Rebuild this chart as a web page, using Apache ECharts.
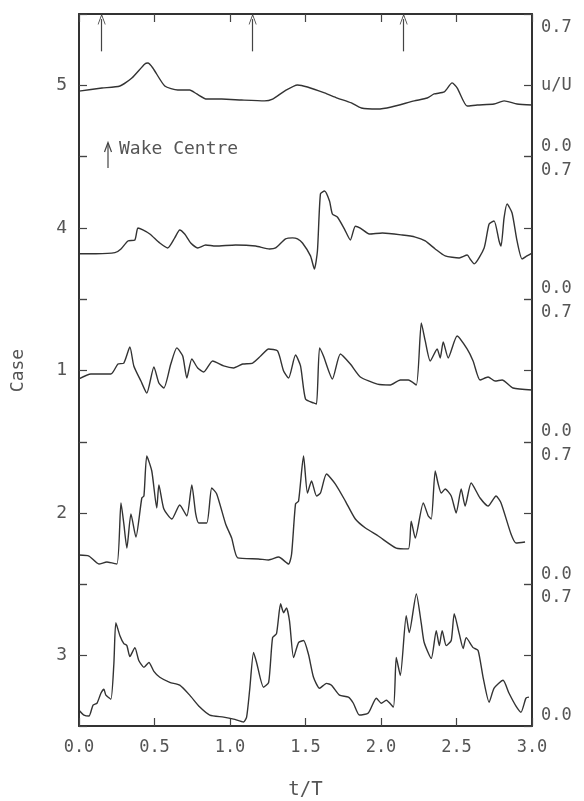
<html>
<head>
<meta charset="utf-8">
<script src="https://cdn.jsdelivr.net/npm/echarts@6/dist/echarts.min.js"></script>
<style>html,body{margin:0;background:#fff}#main{width:584px;height:801px}</style>
</head>
<body>
<div id="main"></div>
<script>
// panels from top to bottom
var caseNames = ['5', '4', '1', '2', '3'];

// [t/T, u/U]
var case5 = [[0,0.326],[0.152,0.344],[0.271,0.356],[0.350,0.403],[0.436,0.486],[0.456,0.491],[0.489,0.462],[0.568,0.356],[0.654,0.332],[0.733,0.332],[0.780,0.309],[0.846,0.279],[0.945,0.279],[1.077,0.273],[1.229,0.268],[1.282,0.279],[1.361,0.326],[1.447,0.362],[1.513,0.350],[1.626,0.315],[1.711,0.285],[1.804,0.256],[1.870,0.226],[1.976,0.220],[2.068,0.232],[2.220,0.268],[2.306,0.285],[2.352,0.309],[2.419,0.321],[2.471,0.374],[2.505,0.344],[2.571,0.238],[2.637,0.244],[2.749,0.250],[2.815,0.268],[2.901,0.250],[3.0,0.244]];

var case4 = [[0,0.208],[0.112,0.208],[0.238,0.214],[0.278,0.236],[0.324,0.283],[0.370,0.289],[0.390,0.359],[0.423,0.348],[0.469,0.324],[0.535,0.271],[0.588,0.242],[0.634,0.301],[0.667,0.348],[0.700,0.324],[0.740,0.271],[0.786,0.242],[0.839,0.259],[0.905,0.253],[1.037,0.259],[1.170,0.253],[1.262,0.236],[1.302,0.242],[1.368,0.295],[1.414,0.301],[1.447,0.295],[1.480,0.271],[1.533,0.195],[1.559,0.118],[1.579,0.224],[1.599,0.560],[1.626,0.577],[1.659,0.518],[1.678,0.442],[1.711,0.424],[1.758,0.353],[1.797,0.289],[1.830,0.370],[1.863,0.359],[1.923,0.324],[2.009,0.330],[2.141,0.318],[2.227,0.306],[2.293,0.283],[2.359,0.236],[2.425,0.195],[2.518,0.183],[2.571,0.200],[2.590,0.177],[2.617,0.148],[2.683,0.242],[2.716,0.383],[2.749,0.401],[2.782,0.283],[2.795,0.253],[2.815,0.419],[2.835,0.501],[2.868,0.448],[2.901,0.283],[2.934,0.177],[2.967,0.195],[3.0,0.212]];

var case1 = [[0,0.310],[0.079,0.339],[0.211,0.339],[0.258,0.398],[0.297,0.404],[0.337,0.498],[0.363,0.387],[0.410,0.298],[0.449,0.227],[0.496,0.381],[0.529,0.286],[0.562,0.257],[0.608,0.398],[0.648,0.493],[0.687,0.445],[0.714,0.316],[0.747,0.428],[0.786,0.375],[0.826,0.351],[0.885,0.416],[0.958,0.387],[1.024,0.375],[1.084,0.398],[1.150,0.404],[1.203,0.445],[1.256,0.487],[1.315,0.475],[1.355,0.357],[1.388,0.316],[1.434,0.451],[1.467,0.387],[1.500,0.192],[1.553,0.169],[1.573,0.163],[1.593,0.493],[1.619,0.445],[1.678,0.310],[1.731,0.457],[1.797,0.398],[1.863,0.322],[1.976,0.280],[2.062,0.275],[2.128,0.304],[2.181,0.304],[2.234,0.275],[2.267,0.640],[2.293,0.534],[2.326,0.416],[2.372,0.487],[2.392,0.434],[2.412,0.528],[2.445,0.434],[2.504,0.563],[2.570,0.487],[2.610,0.416],[2.656,0.304],[2.709,0.322],[2.756,0.298],[2.802,0.304],[2.874,0.257],[3.0,0.245]];

var case2 = [[0,0.113],[0.066,0.107],[0.132,0.060],[0.185,0.072],[0.251,0.060],[0.278,0.420],[0.297,0.296],[0.317,0.154],[0.344,0.355],[0.377,0.219],[0.416,0.449],[0.430,0.461],[0.449,0.696],[0.482,0.608],[0.515,0.390],[0.529,0.526],[0.562,0.384],[0.615,0.325],[0.667,0.408],[0.714,0.343],[0.747,0.526],[0.773,0.355],[0.793,0.302],[0.846,0.302],[0.879,0.508],[0.912,0.473],[0.971,0.296],[1.011,0.213],[1.051,0.096],[1.189,0.090],[1.256,0.084],[1.322,0.101],[1.388,0.060],[1.408,0.119],[1.434,0.414],[1.454,0.431],[1.487,0.696],[1.513,0.478],[1.540,0.549],[1.573,0.461],[1.599,0.478],[1.639,0.590],[1.698,0.531],[1.764,0.431],[1.830,0.325],[1.897,0.272],[1.982,0.225],[2.101,0.154],[2.181,0.149],[2.200,0.313],[2.227,0.213],[2.280,0.420],[2.313,0.343],[2.333,0.325],[2.359,0.608],[2.379,0.531],[2.399,0.478],[2.425,0.502],[2.465,0.461],[2.498,0.361],[2.531,0.502],[2.557,0.402],[2.597,0.537],[2.656,0.449],[2.709,0.402],[2.762,0.461],[2.795,0.420],[2.861,0.237],[2.894,0.184],[2.954,0.190]];

var case3 = [[0,0.034],[0.033,0.005],[0.066,-0.001],[0.093,0.064],[0.119,0.075],[0.145,0.134],[0.165,0.158],[0.178,0.123],[0.211,0.099],[0.231,0.311],[0.244,0.553],[0.271,0.476],[0.297,0.429],[0.317,0.417],[0.337,0.352],[0.370,0.405],[0.396,0.329],[0.430,0.288],[0.463,0.317],[0.496,0.264],[0.535,0.229],[0.601,0.199],[0.667,0.182],[0.733,0.123],[0.800,0.052],[0.866,0.005],[0.958,-0.007],[1.024,-0.019],[1.090,-0.036],[1.110,-0.007],[1.130,0.152],[1.156,0.376],[1.176,0.317],[1.222,0.170],[1.256,0.199],[1.282,0.464],[1.308,0.488],[1.335,0.665],[1.355,0.612],[1.374,0.641],[1.394,0.564],[1.421,0.346],[1.454,0.435],[1.487,0.447],[1.520,0.364],[1.553,0.229],[1.593,0.164],[1.639,0.193],[1.672,0.182],[1.725,0.123],[1.784,0.111],[1.817,0.075],[1.857,0.005],[1.916,0.017],[1.969,0.105],[2.002,0.075],[2.035,0.093],[2.082,0.052],[2.101,0.346],[2.128,0.240],[2.167,0.594],[2.187,0.494],[2.234,0.723],[2.267,0.547],[2.286,0.435],[2.333,0.341],[2.366,0.506],[2.386,0.417],[2.405,0.506],[2.432,0.417],[2.465,0.447],[2.485,0.606],[2.518,0.488],[2.544,0.400],[2.564,0.464],[2.610,0.405],[2.643,0.388],[2.676,0.229],[2.716,0.081],[2.749,0.164],[2.808,0.211],[2.848,0.134],[2.894,0.058],[2.927,0.022],[2.960,0.105],[2.980,0.111]];

var wakeCentres = [0.15, 1.15, 2.15];

var traces = [case5, case4, case1, case2, case3];

var font = 'DejaVu Sans Mono';
var ink = '#333';
var textInk = '#555';
var panelH = 142.6;

var grids = [], xAxes = [], yAxes = [], series = [];

for (var k = 0; k < traces.length; k++) {
    grids.push({left: 79, right: 52, top: 14 + k * panelH, height: panelH});

    xAxes.push({
        gridIndex: k,
        type: 'value',
        min: 0,
        max: 3,
        interval: 0.5,
        show: k === 0 || k === traces.length - 1,
        position: k === 0 ? 'top' : 'bottom',
        axisLine: {onZero: false, lineStyle: {color: ink, width: 2}},
        axisTick: {inside: true, length: 8, lineStyle: {color: '#444', width: 1.2}},
        axisLabel: {
            show: k === traces.length - 1,
            margin: 13,
            fontSize: 17,
            fontFamily: font,
            color: textInk,
            formatter: function (v) { return v.toFixed(1); }
        },
        splitLine: {show: false},
        name: k === traces.length - 1 ? 't/T' : '',
        nameLocation: 'middle',
        nameGap: 55,
        nameTextStyle: {fontSize: 19, fontFamily: font, color: textInk}
    });

    // left: case label
    yAxes.push({
        gridIndex: k,
        type: 'value',
        min: -0.06,
        max: 0.78,
        interval: 0.42,
        position: 'left',
        axisLine: {show: true, onZero: false, lineStyle: {color: ink, width: 2}},
        axisTick: {show: true, inside: true, length: 8, lineStyle: {color: '#444', width: 1.2}},
        axisLabel: {
            customValues: [0.36],
            margin: 12,
            fontSize: 18,
            fontFamily: font,
            color: textInk,
            formatter: (function (name) { return function () { return name; }; })(caseNames[k])
        },
        splitLine: {show: false},
        name: k === 2 ? 'Case' : '',
        nameLocation: 'middle',
        nameRotate: 90,
        nameGap: 52,
        nameTextStyle: {fontSize: 18, fontFamily: font, color: textInk}
    });

    // right: u/U scale
    yAxes.push({
        gridIndex: k,
        type: 'value',
        min: -0.06,
        max: 0.78,
        interval: 0.42,
        position: 'right',
        axisLine: {show: true, onZero: false, lineStyle: {color: ink, width: 2}},
        axisTick: {show: true, inside: true, length: 8, lineStyle: {color: '#444', width: 1.2}},
        axisLabel: {
            customValues: k === 0 ? [0, 0.36, 0.7] : [0, 0.7],
            margin: 9,
            fontSize: 17,
            fontFamily: font,
            color: textInk,
            formatter: function (v) {
                if (v < 0.1) return '0.0';
                if (v > 0.6) return '0.7';
                return 'u/U';
            }
        },
        splitLine: {show: false}
    });

    series.push({
        type: 'line',
        xAxisIndex: k,
        yAxisIndex: 2 * k,
        data: traces[k],
        showSymbol: false,
        smooth: 0.2,
        silent: true,
        lineStyle: {color: ink, width: 1.4}
    });
}

// wake centre arrows along the top
series[0].markLine = {
    silent: true,
    symbol: ['none', 'path://M5,0 L10,12 L9,12 L5,2.5 L1,12 L0,12 Z'],
    symbolSize: [8, 11],
    lineStyle: {color: '#444', width: 1.2, type: 'solid'},
    label: {show: false},
    data: wakeCentres.map(function (t) {
        return [{coord: [t, 0.56]}, {coord: [t, 0.75]}];
    })
};

var option = {
    animation: false,
    backgroundColor: '#fff',
    grid: grids,
    xAxis: xAxes,
    yAxis: yAxes,
    series: series,
    graphic: [
        {type: 'line', shape: {x1: 108, y1: 168, x2: 108, y2: 143}, style: {stroke: '#444', lineWidth: 1.2}},
        {type: 'polyline', shape: {points: [[104.5, 152], [108, 142.5], [111.5, 152]]}, style: {stroke: '#444', lineWidth: 1.2, fill: null}},
        {type: 'text', x: 119, y: 149, style: {text: 'Wake Centre', font: '18px "DejaVu Sans Mono"', fill: textInk, verticalAlign: 'middle'}}
    ]
};

var myChart = echarts.init(document.getElementById('main'));
myChart.setOption(option);
</script>
</body>
</html>
